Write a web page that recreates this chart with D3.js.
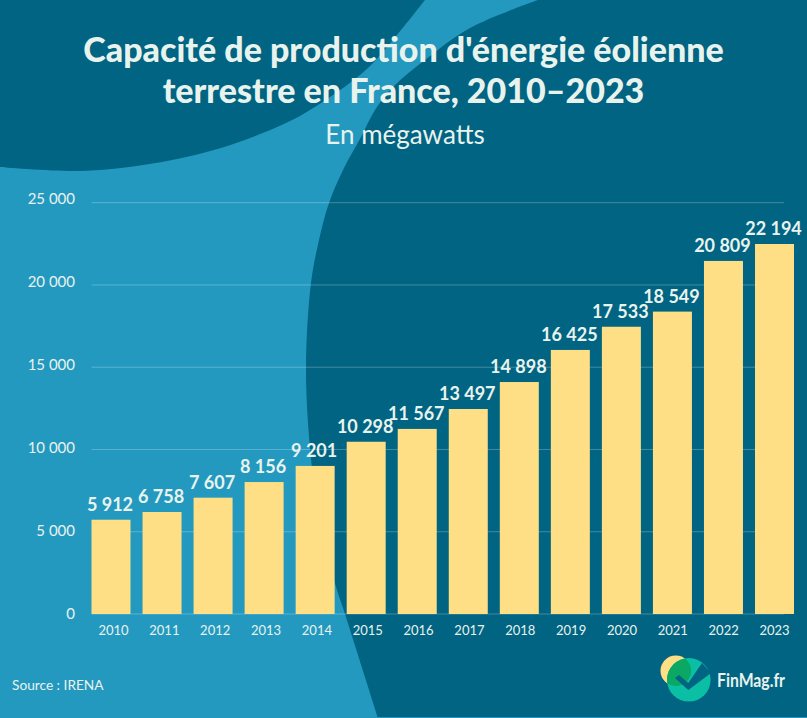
<!DOCTYPE html>
<html lang="fr">
<head>
<meta charset="utf-8">
<script src="https://cdnjs.cloudflare.com/ajax/libs/d3/7.8.5/d3.min.js"></script>
<style>
  html, body { margin: 0; padding: 0; background: #2399c0; }
  svg { display: block; }
  text { font-family: "Lato", sans-serif; fill: #e9f3ee; }
</style>
</head>
<body>
<svg id="chart"></svg>
<script>
// Size of the picture
const width = 807;
const height = 718;

const lightBlue = "#2399c0";
const darkBlue = "#006482";

// Data: bars do not follow their printed labels exactly
const years = ["2010", "2011", "2012", "2013", "2014", "2015", "2016", "2017", "2018", "2019", "2020", "2021", "2022", "2023"];
const barValues = [5730, 6200, 7070, 8020, 9000, 10470, 11250, 12460, 14100, 16050, 17460, 18380, 21460, 22490];
const barLabels = ["5 912", "6 758", "7 607", "8 156", "9 201", "10 298", "11 567", "13 497", "14 898", "16 425", "17 533", "18 549", "20 809", "22 194"];
const yTicks = [0, 5000, 10000, 15000, 20000, 25000];
const yTickLabels = ["0", "5 000", "10 000", "15 000", "20 000", "25 000"];

const svg = d3.select("#chart").attr("width", width).attr("height", height);

// Background shapes
const curve = d3.line().curve(d3.curveCatmullRom.alpha(0.5));
svg.append("rect").attr("width", width).attr("height", height).attr("fill", lightBlue);

const topEdge = [[0, 167], [79, 171], [143, 165], [214, 150], [286, 123], [321, 103], [368, 68], [401, 30], [425, 0]];
svg.append("path")
  .attr("d", curve(topEdge) + "L0,0Z")
  .attr("fill", darkBlue);

const rightEdge = [[538, 0], [470, 28], [425, 60], [393, 87], [375, 110], [361, 137], [343, 170], [329, 203], [319, 240], [311, 283], [306, 366], [310, 448], [318, 510], [334, 580], [345, 614], [378, 718]];
svg.append("path")
  .attr("d", curve(rightEdge) + `L${width},718L${width},0Z`)
  .attr("fill", darkBlue);

svg.append("rect").attr("y", height - 1).attr("width", width).attr("height", 1).attr("fill", lightBlue);

// Title
svg.append("text").attr("x", 403.5).attr("y", 62).attr("text-anchor", "middle")
  .attr("font-size", 34).attr("font-weight", 900).text("Capacité de production d'énergie éolienne");
svg.append("text").attr("x", 403.5).attr("y", 103).attr("text-anchor", "middle")
  .attr("font-size", 34).attr("font-weight", 900).text("terrestre en France, 2010–2023");
svg.append("text").attr("x", 405).attr("y", 144).attr("text-anchor", "middle")
  .attr("font-size", 26).attr("font-weight", 400).text("En mégawatts");

// Scales
const x = d3.scaleBand().domain(years).range([91.5, 794]).paddingInner(0.236);
const y = d3.scaleLinear().domain([0, 25000]).range([614, 202.7]);
const yLabelScale = d3.scaleLinear().domain([0, 25000]).range([614, 199]);
const xLabelScale = d3.scalePoint().domain(years).range([113, 774]);

// Gridlines
svg.append("g").selectAll("line")
  .data(yTicks)
  .join("line")
  .attr("x1", 91.5)
  .attr("x2", 784)
  .attr("y1", d => y(d))
  .attr("y2", d => y(d))
  .attr("stroke", "#fff")
  .attr("stroke-opacity", 0.25)
  .attr("stroke-width", 1);

// Axes
const yAxis = d3.axisLeft(yLabelScale)
  .tickValues(yTicks)
  .tickSize(0)
  .tickPadding(0)
  .tickFormat((d, i) => yTickLabels[i]);
const yAxisG = svg.append("g").attr("transform", "translate(75,0)").call(yAxis);
yAxisG.select(".domain").remove();
yAxisG.selectAll("text").attr("font-size", 15).style("font-family", "Lato").attr("fill", "#e9f3ee");

const xAxis = d3.axisBottom(xLabelScale).tickSize(0).tickPadding(0);
const xAxisG = svg.append("g").attr("transform", "translate(0,626)").call(xAxis);
xAxisG.select(".domain").remove();
xAxisG.selectAll("text").attr("font-size", 13).style("font-family", "Lato").attr("fill", "#e9f3ee");

// Bars
svg.append("g").selectAll("rect")
  .data(years)
  .join("rect")
  .attr("x", d => x(d))
  .attr("y", (d, i) => y(barValues[i]))
  .attr("width", x.bandwidth())
  .attr("height", (d, i) => y(0) - y(barValues[i]))
  .attr("fill", "#ffdf85");

// Value labels
svg.append("g").selectAll("text")
  .data(years)
  .join("text")
  .attr("x", d => x(d) + x.bandwidth() / 2 - 1)
  .attr("y", (d, i) => y(barValues[i]) - 9)
  .attr("text-anchor", "middle")
  .attr("font-size", 18)
  .attr("font-weight", 700)
  .text((d, i) => barLabels[i]);

// Source
svg.append("text").attr("x", 12).attr("y", 690).attr("font-size", 13.7).text("Source : IRENA");

// Logo
const logo = svg.append("g");
const defs = svg.append("defs");
defs.append("clipPath").attr("id", "logo-teal")
  .append("circle").attr("cx", 688.8).attr("cy", 679.8).attr("r", 21.8);
logo.append("circle").attr("cx", 675.8).attr("cy", 670.7).attr("r", 15.3).attr("fill", "#ffdf85");
logo.append("circle").attr("cx", 688.8).attr("cy", 679.8).attr("r", 21.8).attr("fill", "#0abfa3");
logo.append("circle").attr("cx", 675.8).attr("cy", 670.7).attr("r", 15.3).attr("fill", "#0aa863")
  .attr("clip-path", "url(#logo-teal)");
logo.append("path").attr("d", "M675,678L688.3,690L711,673L702,663L688.3,683L679,675Z").attr("fill", darkBlue);
svg.append("text").attr("x", 717).attr("y", 687).attr("font-size", 18).attr("font-weight", 700)
  .attr("textLength", 68).attr("lengthAdjust", "spacingAndGlyphs").attr("fill", "#fff").text("FinMag.fr");
</script>
</body>
</html>
